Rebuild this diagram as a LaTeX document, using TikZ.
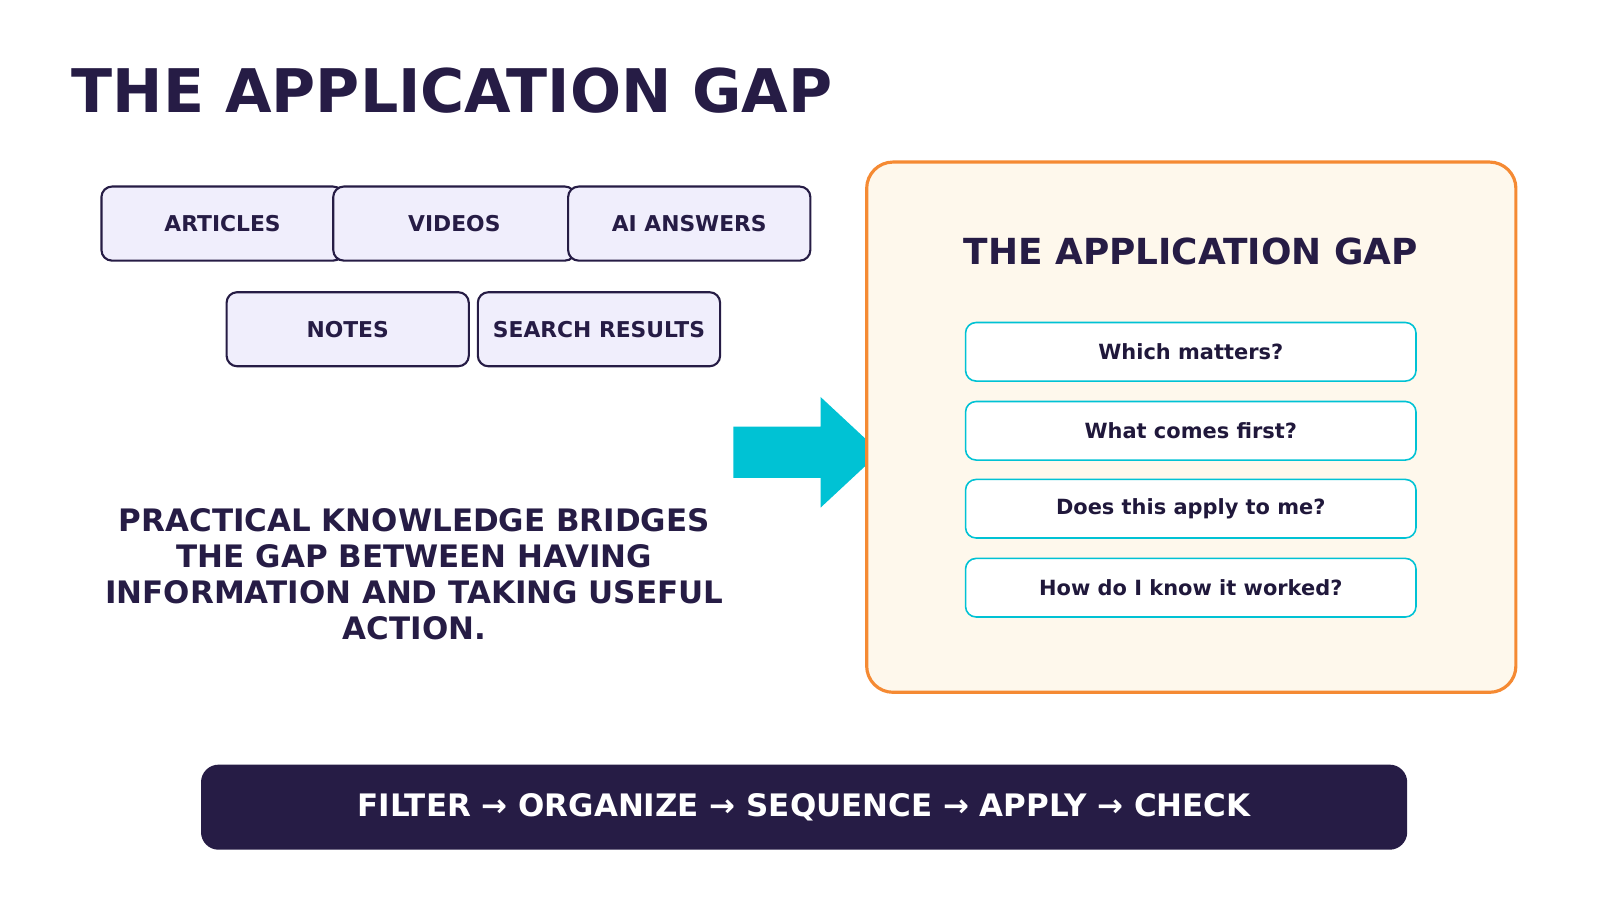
\documentclass[tikz,border=0pt]{standalone}
\usepackage{fontspec}
\setmainfont{DejaVu Sans}
\usetikzlibrary{positioning}
\definecolor{ink}{HTML}{261C45}
\definecolor{lav}{HTML}{F0EEFC}
\definecolor{teal}{HTML}{00C2D4}
\definecolor{cream}{HTML}{FEF8EC}
\definecolor{orng}{HTML}{F58A33}
\tikzset{
  src/.style={draw=ink, line width=1.2pt, fill=lav, rounded corners=6pt,
    minimum width=4.84cm, minimum height=1.48cm, text=ink,
    font=\fontsize{12.4}{15}\selectfont\bfseries},
  ask/.style={draw=teal, line width=0.9pt, fill=white, rounded corners=6pt,
    minimum width=9.0cm, minimum height=1.17cm, text=ink!85!black,
    font=\fontsize{11.9}{14}\selectfont\bfseries}
}
\begin{document}
\begin{tikzpicture}[x=0.0205cm,y=-0.0205cm]
\useasboundingbox (0,0) rectangle (1560,877.5);

% title
\node[anchor=west, text=ink, font=\fontsize{34.2}{40}\selectfont\bfseries] (title) at (64,88) {THE APPLICATION GAP};

% sources
\node[src] (articles) at (217,218) {ARTICLES};
\node[src] (videos)   at (443,218) {VIDEOS};
\node[src] (aians)    at (672,218) {AI ANSWERS};
\node[src] (notes)    at (339,321) {NOTES};
\node[src] (search)   at (584,321) {SEARCH RESULTS};

% big arrow
\fill[teal] (715,416) -- (800,416) -- (800,387) -- (858,441) -- (800,495) -- (800,466) -- (715,466) -- cycle;

% statement
\node[align=center, text=ink, font=\fontsize{17.6}{20.6}\selectfont\bfseries] (claim) at (404,560)
  {PRACTICAL KNOWLEDGE BRIDGES\\THE GAP BETWEEN HAVING\\INFORMATION AND TAKING USEFUL\\ACTION.};

% panel
\draw[orng, line width=1.8pt, fill=cream, rounded corners=15pt] (845,158) rectangle (1478,675);
\node[text=ink, font=\fontsize{20.4}{24}\selectfont\bfseries] (ptitle) at (1161,245) {THE APPLICATION GAP};
\node[ask] (q1) at (1161,343) {Which matters?};
\node[ask] (q2) at (1161,420) {What comes first?};
\node[ask] (q3) at (1161,496) {Does this apply to me?};
\node[ask] (q4) at (1161,573) {How do I know it worked?};

% bottom bar
\node[fill=ink, rounded corners=10pt, minimum width=24.1cm, minimum height=1.7cm,
  text=white, font=\fontsize{17.6}{20}\selectfont\bfseries] (steps) at (784,787)
  {FILTER → ORGANIZE → SEQUENCE → APPLY → CHECK};
\end{tikzpicture}
\end{document}
